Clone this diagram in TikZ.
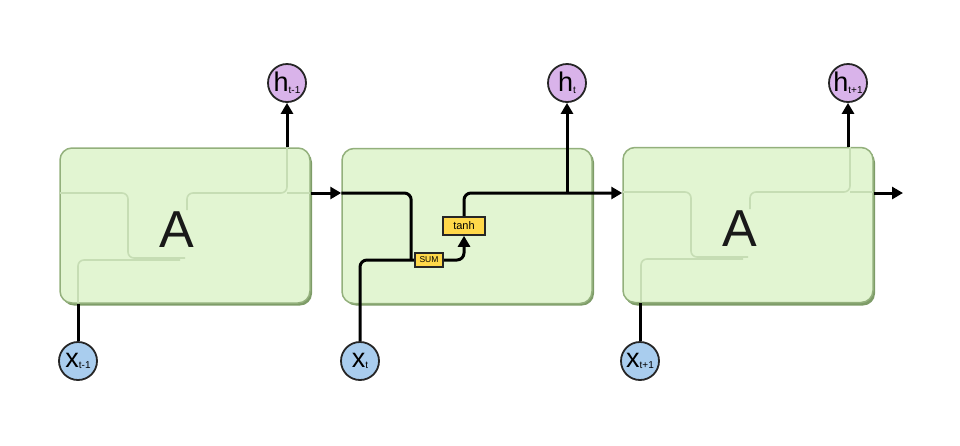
\documentclass[tikz,border=0pt]{standalone}
\usepackage{fontspec}
\setmainfont{Liberation Sans}
\usetikzlibrary{arrows.meta}
\definecolor{boxfill}{HTML}{E2F5D2}
\definecolor{boxdraw}{HTML}{93B07C}
\definecolor{boxshadow}{HTML}{7E9C68}
\definecolor{ghost}{HTML}{C6DDB4}
\definecolor{hfill}{HTML}{D9B3EA}
\definecolor{xfill}{HTML}{A9CDEE}
\definecolor{opfill}{HTML}{FFD84A}
\newcommand\circlbl[2]{{\fontsize{27}{27}\selectfont #1}\raisebox{-1.5pt}{\fontsize{10}{10}\selectfont #2}}
\begin{document}
\begin{tikzpicture}[x=1pt,y=-1pt,
  cell/.style={draw=boxdraw, fill=boxfill, line width=1.5pt, rounded corners=12pt,
    minimum width=250pt, minimum height=155pt, inner sep=0pt},
  cellshadow/.style={fill=boxshadow, rounded corners=12pt,
    minimum width=250pt, minimum height=155pt, inner sep=0pt},
  hcirc/.style={circle, draw=black!85, line width=1.8pt, fill=hfill, minimum size=38pt, inner sep=0pt},
  xcirc/.style={circle, draw=black!85, line width=1.8pt, fill=xfill, minimum size=38pt, inner sep=0pt},
  opbox/.style={draw=black!85, line width=1.6pt, fill=opfill, inner sep=0pt},
  wire/.style={line width=3pt, black},
  arr/.style={wire, -{Triangle[length=11pt,width=12pt]}},
  ghostline/.style={ghost, line width=1.6pt, rounded corners=6pt},
  bigA/.style={font=\fontsize{52}{52}\selectfont, text=black!90, inner sep=0pt}
]
\useasboundingbox (0,0) rectangle (960,445);
\coordinate (m) at (0,193);

% shadows
\node[cellshadow] at (187,228) {};
\node[cellshadow] at (469,228) {};
\node[cellshadow] at (750,228) {};
% cells
\node[cell] (c1) at (185,225.5) {};
\node[cell] (c2) at (467,226) {};
\node[cell] (c3) at (748,225) {};

% ghost structure inside the collapsed cells
\foreach \ox/\oy in {60/148, 623/147}{
  \begin{scope}[shift={(\ox,\oy)}]
    \draw[ghostline] (0,45) -- (68,45) -- (68,110) -- (125,110);
    \draw[ghostline] (18,155) -- (18,112) -- (120,112);
    \draw[ghostline] (127,62) -- (127,45) -- (227,45) -- (227,0);
    \draw[ghostline] (227,45) -- (250,45);
  \end{scope}
}

\node[bigA] (a1) at (177,230) {A};
\node[bigA] (a3) at (740,229) {A};

% circles
\node[hcirc] (h1) at (287,83) {\circlbl{h}{t-1}};
\node[hcirc] (h2) at (567,83) {\circlbl{h}{t}};
\node[hcirc] (h3) at (848,83) {\circlbl{h}{t+1}};
\node[xcirc] (x1) at (78,361) {\circlbl{x}{t-1}};
\node[xcirc] (x2) at (360,361) {\circlbl{x}{t}};
\node[xcirc] (x3) at (640,361) {\circlbl{x}{t+1}};

% operations in the middle cell
\node[opbox, minimum width=28pt, minimum height=14pt, font=\fontsize{8.5}{8.5}\selectfont] (sum) at (429,260) {SUM};
\node[opbox, minimum width=42pt, minimum height=18pt, font=\fontsize{11}{11}\selectfont] (tanh) at (464,226) {tanh};

\coordinate (out) at (903,193);

% cell 1 connectors
\draw[wire] (x1.north) -- (x1 |- c1.south);
\draw[arr] (h1 |- c1.north) -- (h1.south);
\draw[arr] (c1.east |- m) -- (c2.west |- m);

% cell 2 connectors
\draw[wire, rounded corners=7pt] (c2.west |- m) -| ([xshift=-3pt]sum.west);
\draw[wire, rounded corners=7pt] (x2.north) |- (sum.west);
\draw[arr, rounded corners=7pt] (sum.east) -| (tanh.south);
\draw[arr, rounded corners=7pt] (tanh.north) |- (c3.west |- m);
\draw[arr] (h2 |- m) -- (h2.south);

% cell 3 connectors
\draw[wire] (x3.north) -- (x3 |- c3.south);
\draw[arr] (h3 |- c3.north) -- (h3.south);
\draw[arr] (c3.east |- m) -- (out);

% redraw op box on top of the joining wires
\node[opbox, minimum width=28pt, minimum height=14pt, font=\fontsize{8.5}{8.5}\selectfont] at (sum) {SUM};
\end{tikzpicture}
\end{document}
